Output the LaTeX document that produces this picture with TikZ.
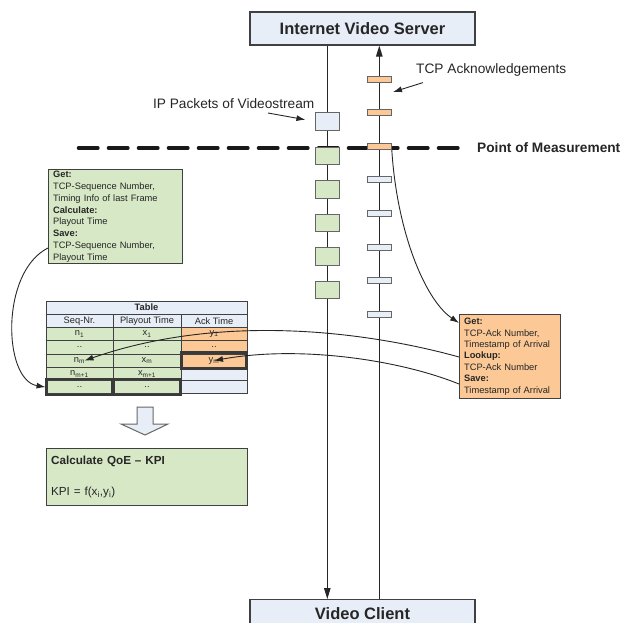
\documentclass[tikz,border=0pt]{standalone}
\usepackage{fontspec}
\setmainfont{Liberation Sans}
\usetikzlibrary{arrows.meta}
\definecolor{pktblue}{RGB}{232,238,247}
\definecolor{pktgreen}{RGB}{215,232,198}
\definecolor{pktorange}{RGB}{251,200,150}
\definecolor{edgegray}{RGB}{64,64,64}
\definecolor{txtgray}{RGB}{38,38,38}
\newcommand{\fs}[2]{\fontsize{#1}{#2}\selectfont}
\tikzset{
  host/.style={draw=edgegray, line width=1.2pt, fill=pktblue, minimum width=225pt, inner sep=0pt, font=\fs{16.5}{18}\bfseries, text=txtgray},
  pkt/.style={draw=edgegray!80, line width=1pt, minimum width=23.5pt, minimum height=17.5pt, inner sep=0pt},
  ack/.style={draw=edgegray!80, line width=1pt, minimum width=24pt, minimum height=6pt, inner sep=0pt},
  infobox/.style={draw=edgegray, line width=1.2pt, align=left, anchor=north west, inner xsep=4.5pt, inner ysep=1.5pt, font=\fs{9.3}{11.8}, text=txtgray},
  cell/.style={draw=edgegray, line width=0.9pt, minimum height=13.25pt, inner sep=0pt, font=\fs{9.3}{11}, text=txtgray},
  hit/.style={draw=edgegray!90!black, line width=2.4pt},
  lbl/.style={inner sep=0pt, font=\fs{13.7}{16}, text=txtgray},
  measure/.style={draw=black!90, line width=4pt, dash pattern=on 19pt off 11pt, line cap=round},
  flow/.style={-{Triangle[length=11pt,width=6.5pt]}, line width=1pt, draw=txtgray},
  link/.style={-{Latex[length=9pt,width=6pt]}, line width=0.9pt, draw=txtgray}
}
\begin{document}
\begin{tikzpicture}[x=1pt,y=-1pt]
\useasboundingbox (0,0) rectangle (626,622);
\clip (0,0) rectangle (626,622);
% server and client
\node[host, minimum height=33pt] (server) at (362.5,28.5) {Internet Video Server};
\node[host, minimum height=28pt, anchor=north] (client) at (362.5,599) {Video Client};
\coordinate (vid) at (327.3,0);
\coordinate (tcp) at (379.3,0);
\draw[flow] (vid |- server.south) -- (vid |- client.north);
\draw[flow] (tcp |- client.north) -- (tcp |- server.south);
% point of measurement
\draw[measure] (78.7,148) -- (458,148);
\node[lbl, anchor=west, font=\fs{13.7}{16}\bfseries] (pom) at (477,148) {Point of Measurement};
% packets
\node[pkt, fill=pktblue] (ip) at (327.5,121.5) {};
\foreach \i in {0,...,4}
  \node[pkt, fill=pktgreen] (v\i) at (327.5,{156+33.5*\i}) {};
\foreach \y [count=\i] in {79.5,112.5,146.5}
  \node[ack, fill=pktorange] (a\i) at (379.3,\y) {};
\foreach \i in {0,...,4}
  \node[ack, fill=pktblue] (b\i) at (379.3,{179.7+33.75*\i}) {};
\node[lbl, anchor=east] (iplbl) at (314.5,104) {IP Packets of Videostream};
\node[lbl, anchor=west] (acklbl) at (416,70) {TCP Acknowledgements};
\coordinate (ipfrom) at (268,113);
\coordinate (ackto) at (393,92);
\draw[link, shorten >=10pt] (ipfrom) -- (ip.west);
\draw[link] ([shift={(7,6)}]acklbl.south west) -- (ackto);
% info boxes
\node[infobox, fill=pktgreen, text width=125pt] (getseq) at (48,169)
  {\textbf{Get:}\\TCP-Sequence Number,\\Timing Info of last Frame\\\textbf{Calculate:}\\Playout Time\\\textbf{Save:}\\TCP-Sequence Number,\\Playout Time};
\node[infobox, fill=pktorange, text width=92pt, inner ysep=3.5pt, font=\fs{9.3}{11.4}] (getack) at (459,314)
  {\textbf{Get:}\\TCP-Ack Number,\\Timestamp of Arrival\\\textbf{Lookup:}\\TCP-Ack Number\\\textbf{Save:}\\Timestamp of Arrival};
% table
\node[cell, fill=pktblue, minimum width=201pt, font=\fs{9.3}{11}\bfseries] (ttl) at (146.5,307.6) {Table};
\foreach \c/\x/\w/\h in {1/79.5/67/Seq-Nr., 2/147/68/Playout Time, 3/214/66/Ack Time}
  \node[cell, fill=pktblue, minimum width=\w pt] (hd\c) at (\x,320.9) {\h};
\foreach \r/\n/\t/\a/\f in {1/n\textsubscript{1}/x\textsubscript{1}/y\textsubscript{1}/pktorange,
    2/../../../pktorange, 3/n\textsubscript{m}/x\textsubscript{m}/y\textsubscript{m}/pktorange,
    4/n\textsubscript{m+1}/x\textsubscript{m+1}/{}/pktblue, 5/../../{}/pktblue} {
  \node[cell, fill=pktgreen, minimum width=67pt] (c1-\r) at (79.5,{320.85+13.25*\r}) {\n};
  \node[cell, fill=pktgreen, minimum width=68pt] (c2-\r) at (147,{320.85+13.25*\r}) {\t};
  \node[cell, fill=\f, minimum width=66pt] (c3-\r) at (214,{320.85+13.25*\r}) {\a};
}
\foreach \n in {c3-3, c1-5, c2-5}
  \draw[hit] ([shift={(1,-1)}]\n.north west) rectangle ([shift={(-1,1)}]\n.south east);
% arrows into the table
\draw[link] (a3.south east) .. controls (397,232) and (425,300) .. ([yshift=-9pt]getack.north west);
\draw[link] ([yshift=-43pt]getack.north west) .. controls (380,335) and (230,310) .. ([xshift=5pt]c1-3.center);
\draw[link] ([yshift=-70pt]getack.north west) .. controls (400,360) and (300,345) .. (c3-3.center);
\draw[link] ([yshift=-79pt]getseq.north west) .. controls (0,272) and (3,380) .. (c1-5.west);
% result
\draw[draw=edgegray!80, line width=1pt, fill=pktblue] (137,407) -- (153,407) -- (153,424) -- (168,424)
  -- (145,435) -- (121,424) -- (137,424) -- cycle;
\node[infobox, fill=pktgreen, text width=192pt, minimum height=57pt, inner ysep=0pt, font=\fs{11.7}{14}] (kpi) at (46,448)
  {\textbf{Calculate QoE – KPI}\\[17pt]KPI = f(x\textsubscript{i},y\textsubscript{i})};
\end{tikzpicture}
\end{document}
